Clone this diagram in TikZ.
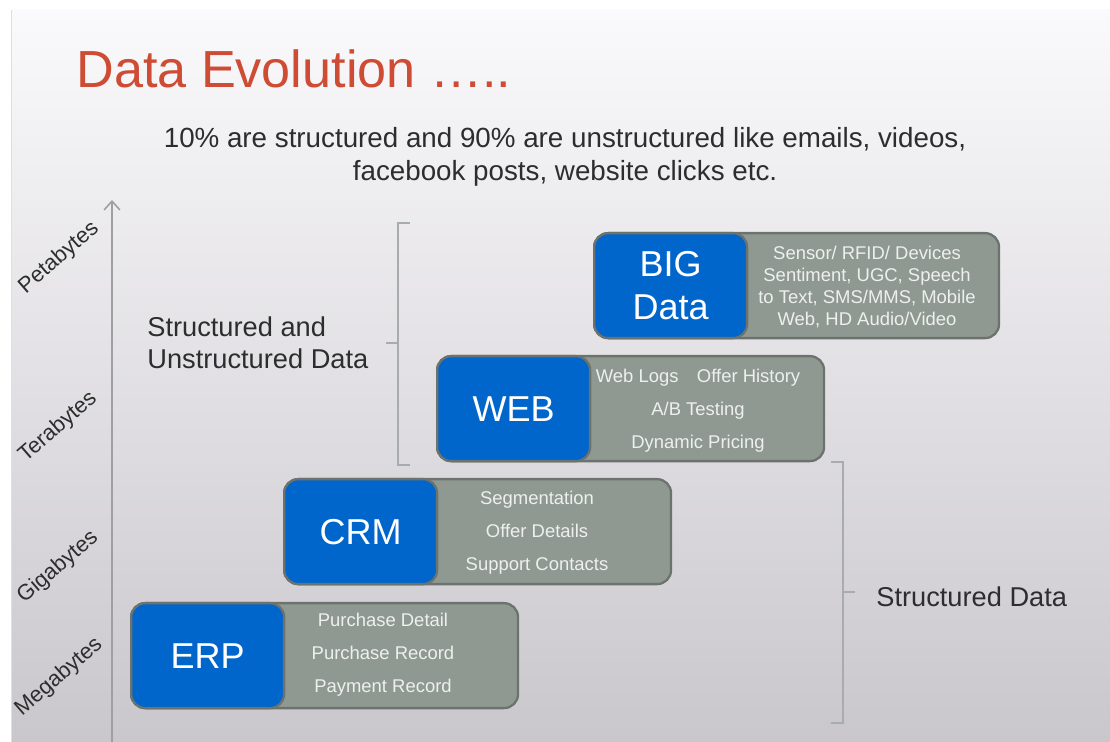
\documentclass[tikz,border=0pt]{standalone}
\usepackage{fontspec}
\setmainfont{Liberation Sans}
\usetikzlibrary{arrows.meta}

\definecolor{titlered}{RGB}{206,76,52}
\definecolor{ink}{RGB}{45,45,45}
\definecolor{boxblue}{RGB}{0,102,204}
\definecolor{boxgray}{RGB}{143,153,145}
\definecolor{boxedge}{RGB}{108,115,110}
\definecolor{boxtext}{RGB}{238,240,238}
\definecolor{bracketgray}{RGB}{168,172,172}
\definecolor{bgtop}{RGB}{250,249,251}
\definecolor{bgbottom}{RGB}{201,199,204}

\newcommand{\fs}[2]{\fontsize{#1}{#2}\selectfont}

\tikzset{
  panel/.style={draw=boxedge, line width=1.3pt, fill=boxgray, rounded corners=0.28cm,
    minimum width=7.74cm, minimum height=2.1cm, anchor=north west, inner sep=0pt},
  tag/.style={draw=boxedge, line width=1.3pt, fill=boxblue, rounded corners=0.28cm,
    minimum width=3.06cm, minimum height=2.1cm, anchor=north west, inner sep=0pt,
    text=white, font=\fs{20.5}{25}, align=center},
  detail/.style={text=boxtext, font=\fs{10.5}{18.7}, align=center, inner sep=0pt},
  scale label/.style={text=ink, font=\fs{12.5}{15}, rotate=41, inner sep=0pt},
  bracket/.style={draw=bracketgray, line width=1pt},
  axis/.style={draw=gray!75, line width=0.9pt},
}

\begin{document}
\begin{tikzpicture}[x=0.02cm, y=-0.02cm]
  % canvas and slide background
  \useasboundingbox (0,0) rectangle (1110,742);
  \fill[white] (0,0) rectangle (1110,742);
  \shade[top color=bgtop, bottom color=bgbottom] (12,10) rectangle (1110,742);
  \draw[gray!25, line width=0.6pt] (11.5,10) -- (11.5,742);

  % heading
  \node[anchor=base west, text=titlered, font=\fs{29.7}{36}, inner sep=0pt] (title) at (76,88) {Data Evolution …..};
  \node[anchor=center, text=ink, font=\fs{15.8}{18.7}, align=center, inner sep=0pt] (subtitle) at (565,157)
    {10\% are structured and 90\% are unstructured like emails, videos,\\facebook posts, website clicks etc.};

  % vertical size axis
  \coordinate (axbottom) at (112,742);
  \coordinate (axtop) at (112,200);
  \draw[axis, -{Straight Barb[length=5pt,width=9pt]}] (axbottom) -- (axtop);

  \node[scale label] (peta) at (59,258) {Petabytes};
  \node[scale label] (tera) at (58,427) {Terabytes};
  \node[scale label] (giga) at (58,567) {Gigabytes};
  \node[scale label] (mega) at (59,677) {Megabytes};

  % ERP
  \node[panel] (erp) at (130,602) {};
  \node[tag] (erptag) at (130,602) {ERP};
  \node[detail] (erptext) at (383,655) {Purchase Detail\\Purchase Record\\Payment Record};

  % CRM
  \node[panel] (crm) at (283,478) {};
  \node[tag] (crmtag) at (283,478) {CRM};
  \node[detail] (crmtext) at (537,533) {Segmentation\\Offer Details\\Support Contacts};

  % WEB
  \node[panel] (web) at (436,355) {};
  \node[tag] (webtag) at (436,355) {WEB};
  \node[detail] (webtext) at (698,411) {Web Logs\hspace{1em}Offer History\\A/B Testing\\Dynamic Pricing};

  % BIG Data
  \node[panel, minimum width=8.1cm] (big) at (593,232) {};
  \node[tag] (bigtag) at (593,232) {BIG\\Data};
  \node[detail, font=\fs{10.5}{12.6}] (bigtext) at (867,287)
    {Sensor/ RFID/ Devices\\Sentiment, UGC, Speech\\to Text, SMS/MMS, Mobile\\Web, HD Audio/Video};

  % bracket: structured and unstructured
  \coordinate (ba) at (410,223);
  \coordinate (bb) at (398,223);
  \coordinate (bc) at (398,465);
  \coordinate (bd) at (410,465);
  \coordinate (bm) at (398,343);
  \coordinate (bn) at (386,343);
  \draw[bracket] (ba) -- (bb) -- (bc) -- (bd);
  \draw[bracket] (bm) -- (bn);
  \node[anchor=west, text=ink, font=\fs{15.5}{18.2}, align=left, inner sep=0pt] (mixed) at (147,343)
    {Structured and\\Unstructured Data};

  % bracket: structured only
  \coordinate (ca) at (831,462);
  \coordinate (cb) at (843,462);
  \coordinate (cc) at (843,723);
  \coordinate (cd) at (831,723);
  \coordinate (cm) at (843,592);
  \coordinate (cn) at (855,592);
  \draw[bracket] (ca) -- (cb) -- (cc) -- (cd);
  \draw[bracket] (cm) -- (cn);
  \node[anchor=west, text=ink, font=\fs{15.5}{18.2}, inner sep=0pt] (structured) at (876,597) {Structured Data};
\end{tikzpicture}
\end{document}
